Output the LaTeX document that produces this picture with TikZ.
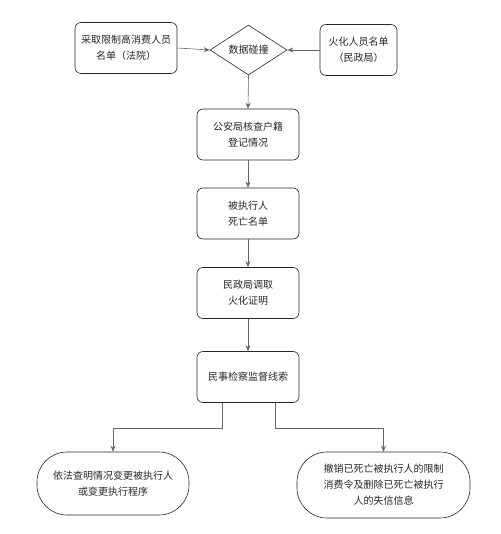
\documentclass[tikz,border=0pt]{standalone}
\usepackage{fontspec}
\setmainfont{Noto Sans CJK SC}
\usetikzlibrary{shapes.geometric,arrows.meta}
\begin{document}
\begin{tikzpicture}[x=1pt,y=-1pt,
  base/.style={draw=black!85,line width=0.6pt,align=center,font=\fontsize{10}{16}\selectfont,inner sep=0pt,text=black!85},
  procbox/.style={base,rounded corners=6pt,minimum width=102pt,minimum height=51pt},
  termbox/.style={base,rounded corners=30pt},
  decide/.style={base,diamond,minimum width=77pt,minimum height=50pt},
  conn/.style={draw=black!60,line width=0.6pt,-{Stealth[length=6pt,width=5pt]}}]
\useasboundingbox (0,0) rectangle (500,534);
\node[procbox] (L) at (126,48) {采取限制高消费人员\\名单（法院）};
\node[decide] (D) at (248.5,50) {数据碰撞};
\node[procbox,minimum width=77pt] (R) at (358.5,50) {火化人员名单\\（民政局）};
\node[procbox] (B1) at (248,134.5) {公安局核查户籍\\登记情况};
\node[procbox] (B2) at (248,213.5) {被执行人\\死亡名单};
\node[procbox] (B3) at (248,293) {民政局调取\\火化证明};
\node[procbox] (B4) at (248,377) {民事检察监督线索};
\node[termbox,minimum width=152pt,minimum height=63pt] (E1) at (113,483.5) {依法查明情况变更被执行人\\或变更执行程序};
\node[termbox,minimum width=173pt,minimum height=66pt] (E2) at (383.5,485) {撤销已死亡被执行人的限制\\消费令及删除已死亡被执行\\人的失信信息};
\draw[conn] (L.east) -- (D.west);
\draw[conn] (R.west) -- (D.east);
\draw[conn] (D.south) -- (B1.north);
\draw[conn] (B1) -- (B2);
\draw[conn] (B2) -- (B3);
\draw[conn] (B3) -- (B4);
\draw[conn] ([xshift=-26pt]B4.south) -- ++(0,25) -| (E1.north);
\draw[conn] ([xshift=27pt]B4.south) -- ++(0,25) -| (E2.north);
\end{tikzpicture}
\end{document}
